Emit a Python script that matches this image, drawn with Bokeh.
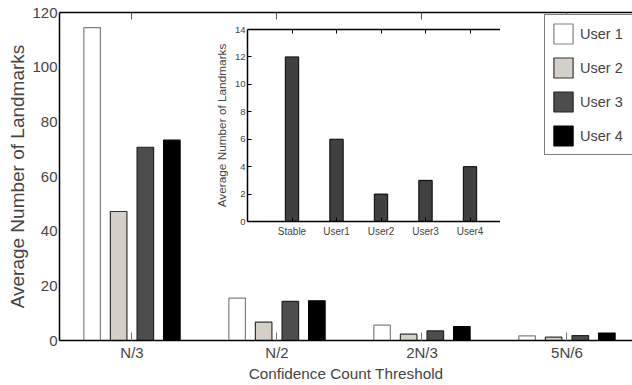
from bokeh.plotting import figure
from bokeh.layouts import column
from bokeh.models import (Range1d, FixedTicker, LinearAxis, Legend, LegendItem,
                          CustomJSTickFormatter)
from bokeh.transform import dodge
from bokeh.embed import file_html
from bokeh.resources import INLINE

# ---------------- data ----------------
groups = ["N/3", "N/2", "2N/3", "5N/6"]
user1 = [114.5, 15.5, 5.6, 1.7]
user2 = [47.2, 6.7, 2.3, 1.2]
user3 = [70.7, 14.3, 3.5, 1.8]
user4 = [73.3, 14.5, 5.1, 2.7]
series_names = ["User 1", "User 2", "User 3", "User 4"]
y_ticks = [0, 20, 40, 60, 80, 100, 120]

inset_categories = ["Stable", "User1", "User2", "User3", "User4"]
inset_values = [12, 6, 2, 3, 4]
inset_y_ticks = [0, 2, 4, 6, 8, 10, 12, 14]

# ---------------- styles ----------------
FONT = "Liberation Sans"
fills = ["#ffffff", "#d4d0c8", "#4d4d4d", "#000000"]
edges = ["#808080", "#333333", "#222222", "#000000"]
offsets = [-0.275, -0.092, 0.092, 0.275]


def blank_axis(ticks, tick_in, color="#000000"):
    return LinearAxis(ticker=FixedTicker(ticks=ticks),
                      formatter=CustomJSTickFormatter(code="return ''"),
                      major_label_text_font_size="1px", major_label_standoff=0,
                      major_tick_out=0, major_tick_in=tick_in,
                      major_tick_line_color=color, minor_tick_line_color=None,
                      axis_line_width=1.5)


xpos = list(range(1, len(groups) + 1))
source = dict(x=xpos, u1=user1, u2=user2, u3=user3, u4=user4)

p = figure(frame_width=573, frame_height=328,
           x_range=Range1d(0.5, 4.452), y_range=Range1d(0, 120),
           output_backend="svg", toolbar_location=None,
           min_border_left=59, min_border_top=12, min_border_right=0,
           min_border_bottom=0)
p.outline_line_color = None
p.grid.visible = False
p.background_fill_color = "white"
p.border_fill_color = "white"

renderers = []
for key, f, e, off in zip(["u1", "u2", "u3", "u4"], fills, edges, offsets):
    r = p.vbar(x=dodge("x", off, range=p.x_range), top=key, width=0.114,
               source=source, fill_color=f, line_color=e, line_width=1.2)
    renderers.append(r)

# bottom axis
xa = p.xaxis[0]
xa.ticker = FixedTicker(ticks=xpos)
xa.major_label_overrides = {x: g for x, g in zip(xpos, groups)}
xa.major_label_text_font = FONT
xa.major_label_text_font_size = "15px"
xa.major_label_standoff = 3
xa.major_tick_out = 0
xa.major_tick_in = 8
xa.major_tick_line_color = "#777777"
xa.minor_tick_line_color = None
xa.axis_line_width = 1.5
xa.axis_label = "Confidence Count Threshold"
xa.axis_label_text_font = FONT
xa.axis_label_text_font_size = "15.3px"
xa.axis_label_text_font_style = "normal"
xa.axis_label_standoff = 1

# left axis
ya = p.yaxis[0]
ya.ticker = FixedTicker(ticks=y_ticks)
ya.major_label_text_font = FONT
ya.major_label_text_font_size = "15px"
ya.major_label_standoff = 2
ya.major_tick_out = 0
ya.major_tick_in = 0
ya.minor_tick_line_color = None
ya.axis_line_width = 1.5
ya.axis_label = "Average Number of Landmarks"
ya.axis_label_text_font = FONT
ya.axis_label_text_font_size = "19px"
ya.axis_label_text_font_style = "normal"
ya.axis_label_standoff = 1

# top frame line with inward ticks
p.add_layout(blank_axis(xpos, 7, "#555555"), "above")

legend = Legend(items=[LegendItem(label=n, renderers=[r]) for n, r in zip(series_names, renderers)],
                location=(485, 185), orientation="vertical",
                glyph_width=24, glyph_height=25, label_height=25, label_width=60,
                label_standoff=5, spacing=9, padding=6, margin=0,
                label_text_font=FONT, label_text_font_size="14.5px",
                border_line_color="black", border_line_width=1.5,
                background_fill_color="white", background_fill_alpha=1.0)
p.add_layout(legend, "center")

# ---------------- inset ----------------
ix = list(range(1, len(inset_categories) + 1))
inset = figure(frame_width=267, frame_height=192,
               x_range=Range1d(0, 6), y_range=Range1d(0, 14),
               output_backend="svg", toolbar_location=None,
               min_border_left=40, min_border_top=5, min_border_right=5,
               min_border_bottom=0)
inset.outline_line_color = None
inset.grid.visible = False
inset.background_fill_color = "white"
inset.border_fill_color = None
inset.vbar(x=ix, top=inset_values, width=0.3, fill_color="#404040",
           line_color="#000000", line_width=1)

ixa = inset.xaxis[0]
ixa.ticker = FixedTicker(ticks=ix)
ixa.major_label_overrides = {x: c for x, c in zip(ix, inset_categories)}
ixa.major_label_text_font = FONT
ixa.major_label_text_font_size = "10px"
ixa.major_label_standoff = 4
ixa.major_tick_out = 0
ixa.major_tick_in = 4
ixa.minor_tick_line_color = None
ixa.axis_line_width = 1.5

iya = inset.yaxis[0]
iya.ticker = FixedTicker(ticks=inset_y_ticks)
iya.major_label_text_font = FONT
iya.major_label_text_font_size = "9.5px"
iya.major_label_standoff = 2
iya.major_tick_out = 0
iya.major_tick_in = 4
iya.minor_tick_line_color = None
iya.axis_line_width = 1.5
iya.axis_label = "Average Number of Landmarks"
iya.axis_label_text_font = FONT
iya.axis_label_text_font_size = "11.8px"
iya.axis_label_text_font_style = "normal"
iya.axis_label_standoff = 3

inset.add_layout(blank_axis(ix, 4), "above")
inset.add_layout(blank_axis(inset_y_ticks, 4), "right")

inset.styles = {"position": "absolute", "left": "188px", "top": "24px", "z-index": "2"}

layout = column(p, inset, styles={"position": "relative"})

open("out.html", "w").write(file_html(layout, INLINE))
